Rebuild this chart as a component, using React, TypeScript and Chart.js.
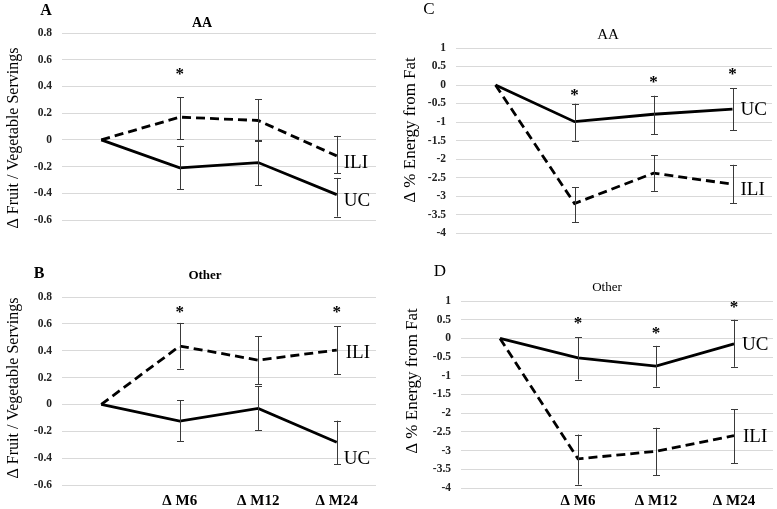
import React, { useEffect, useRef } from "react";
import { Chart, registerables } from "chart.js";

Chart.register(...registerables);

// ---------- data ----------
const categories = ["", "Δ M6", "Δ M12", "Δ M24"];

const fvTickValues = [-0.6, -0.4, -0.2, 0, 0.2, 0.4, 0.6, 0.8];
const fatTickValues = [-4, -3.5, -3, -2.5, -2, -1.5, -1, -0.5, 0, 0.5, 1];

// Panel A: AA, fruit / vegetable servings
const aILI = [0, 0.17, 0.145, -0.12];
const aILILow = [null, 0.005, -0.01, -0.25];
const aILIHigh = [null, 0.32, 0.305, 0.03];
const aUC = [0, -0.21, -0.17, -0.41];
const aUCLow = [null, -0.37, -0.34, -0.575];
const aUCHigh = [null, -0.045, 0.0, -0.285];
const aStars = [null, 0.505, null, null];

// Panel B: Other, fruit / vegetable servings
const bILI = [0, 0.435, 0.33, 0.405];
const bILILow = [null, 0.267, 0.15, 0.225];
const bILIHigh = [null, 0.607, 0.508, 0.582];
const bUC = [0, -0.124, -0.03, -0.282];
const bUCLow = [null, -0.272, -0.19, -0.446];
const bUCHigh = [null, 0.032, 0.136, -0.121];
const bStars = [null, 0.7, null, 0.7];

// Panel C: AA, % energy from fat
const cUC = [0, -0.99, -0.79, -0.65];
const cUCLow = [null, -1.5, -1.335, -1.22];
const cUCHigh = [null, -0.505, -0.29, -0.085];
const cILI = [0, -3.2, -2.38, -2.68];
const cILILow = [null, -3.71, -2.86, -3.2];
const cILIHigh = [null, -2.76, -1.89, -2.155];
const cStars = [null, -0.23, 0.11, 0.33];

// Panel D: Other, % energy from fat
const dUC = [0, -0.52, -0.74, -0.145];
const dUCLow = [null, -1.1, -1.29, -0.76];
const dUCHigh = [null, 0.03, -0.2, 0.5];
const dILI = [0, -3.22, -3.02, -2.6];
const dILILow = [null, -3.91, -3.66, -3.34];
const dILIHigh = [null, -2.57, -2.39, -1.89];
const dStars = [null, 0.46, 0.19, 0.89];

// ---------- layout ----------
const SERIF = "'Liberation Serif', 'Times New Roman', serif";

type Series = {
  name: string;
  values: (number | null)[];
  low: (number | null)[];
  high: (number | null)[];
  dashed: boolean;
  labelDx: number;
  labelDy: number;
};

type PanelCfg = {
  rect: { x: number; y: number; w: number; h: number };
  plot: { left: number; right: number; top: number; bottom: number };
  ticks: number[];
  min: number;
  max: number;
  showX: boolean;
  xPad: number;
  letter: { text: string; x: number; y: number; font: string };
  group: { text: string; x: number; y: number; font: string };
  yTitle: { text: string; x: number; y: number; font: string };
  series: Series[];
  stars: (number | null)[];
};

const panels: PanelCfg[] = [
  {
    rect: { x: 0, y: 0, w: 388, h: 250 },
    plot: { left: 62, right: 376, top: 33, bottom: 220 },
    ticks: fvTickValues,
    min: -0.6,
    max: 0.8,
    showX: false,
    xPad: 0,
    letter: { text: "A", x: 46, y: 11, font: `bold 16px ${SERIF}` },
    group: { text: "AA", x: 202, y: 23, font: `bold 14px ${SERIF}` },
    yTitle: { text: "Δ Fruit / Vegetable Servings", x: 14, y: 138, font: `16px ${SERIF}` },
    series: [
      { name: "ILI", values: aILI, low: aILILow, high: aILIHigh, dashed: true, labelDx: 7, labelDy: 7 },
      { name: "UC", values: aUC, low: aUCLow, high: aUCHigh, dashed: false, labelDx: 7, labelDy: 6 },
    ],
    stars: aStars,
  },
  {
    rect: { x: 0, y: 250, w: 388, h: 259 },
    plot: { left: 62, right: 376, top: 297, bottom: 485 },
    ticks: fvTickValues,
    min: -0.6,
    max: 0.8,
    showX: true,
    xPad: -1,
    letter: { text: "B", x: 39, y: 274, font: `bold 16px ${SERIF}` },
    group: { text: "Other", x: 205, y: 276, font: `bold 13px ${SERIF}` },
    yTitle: { text: "Δ Fruit / Vegetable Servings", x: 14, y: 388, font: `16px ${SERIF}` },
    series: [
      { name: "ILI", values: bILI, low: bILILow, high: bILIHigh, dashed: true, labelDx: 9, labelDy: 3 },
      { name: "UC", values: bUC, low: bUCLow, high: bUCHigh, dashed: false, labelDx: 7, labelDy: 17 },
    ],
    stars: bStars,
  },
  {
    rect: { x: 388, y: 0, w: 389, h: 250 },
    plot: { left: 456, right: 772, top: 48, bottom: 239 },
    ticks: fatTickValues,
    min: -4,
    max: 1,
    showX: false,
    xPad: 0,
    letter: { text: "C", x: 429, y: 10, font: `17px ${SERIF}` },
    group: { text: "AA", x: 608, y: 35, font: `15px ${SERIF}` },
    yTitle: { text: "Δ % Energy from Fat", x: 411, y: 130, font: `17px ${SERIF}` },
    series: [
      { name: "UC", values: cUC, low: cUCLow, high: cUCHigh, dashed: false, labelDx: 8, labelDy: 1 },
      { name: "ILI", values: cILI, low: cILILow, high: cILIHigh, dashed: true, labelDx: 8, labelDy: 6 },
    ],
    stars: cStars,
  },
  {
    rect: { x: 388, y: 250, w: 389, h: 259 },
    plot: { left: 461, right: 773, top: 301, bottom: 488 },
    ticks: fatTickValues,
    min: -4,
    max: 1,
    showX: true,
    xPad: -4,
    letter: { text: "D", x: 440, y: 272, font: `17px ${SERIF}` },
    group: { text: "Other", x: 607, y: 288, font: `13px ${SERIF}` },
    yTitle: { text: "Δ % Energy from Fat", x: 413, y: 381, font: `17px ${SERIF}` },
    series: [
      { name: "UC", values: dUC, low: dUCLow, high: dUCHigh, dashed: false, labelDx: 8, labelDy: 1 },
      { name: "ILI", values: dILI, low: dILILow, high: dILIHigh, dashed: true, labelDx: 9, labelDy: 1 },
    ],
    stars: dStars,
  },
];

function Panel({ cfg }: { cfg: PanelCfg }) {
  const ref = useRef<HTMLCanvasElement | null>(null);

  useEffect(() => {
    const canvas = ref.current;
    if (!canvas) return;
    const { rect, plot } = cfg;

    const overlay = {
      id: "overlay",
      afterDatasetsDraw(chart: any) {
        const ctx = chart.ctx as CanvasRenderingContext2D;
        const xs = chart.scales.x;
        const ys = chart.scales.y;
        ctx.save();
        // error bars
        ctx.strokeStyle = "#3a3a3a";
        ctx.lineWidth = 1;
        cfg.series.forEach((s) => {
          s.values.forEach((_, i) => {
            const lo = s.low[i];
            const hi = s.high[i];
            if (lo == null || hi == null) return;
            const x = Math.round(xs.getPixelForValue(i)) + 0.5;
            const y1 = ys.getPixelForValue(lo);
            const y2 = ys.getPixelForValue(hi);
            ctx.beginPath();
            ctx.moveTo(x, y1);
            ctx.lineTo(x, y2);
            ctx.moveTo(x - 3.5, Math.round(y1) + 0.5);
            ctx.lineTo(x + 3.5, Math.round(y1) + 0.5);
            ctx.moveTo(x - 3.5, Math.round(y2) + 0.5);
            ctx.lineTo(x + 3.5, Math.round(y2) + 0.5);
            ctx.stroke();
          });
        });
        // stars
        ctx.fillStyle = "#000";
        ctx.font = `bold 17px ${SERIF}`;
        ctx.textAlign = "center";
        ctx.textBaseline = "middle";
        cfg.stars.forEach((v, i) => {
          if (v == null) return;
          ctx.fillText("*", xs.getPixelForValue(i), ys.getPixelForValue(v) + 2);
        });
        // series labels
        ctx.font = `19px ${SERIF}`;
        ctx.textAlign = "left";
        cfg.series.forEach((s) => {
          const last = s.values.length - 1;
          const v = s.values[last] as number;
          ctx.fillText(s.name, xs.getPixelForValue(last) + s.labelDx, ys.getPixelForValue(v) + s.labelDy);
        });
        // static texts
        const txt = (t: { text: string; x: number; y: number; font: string }) => {
          ctx.font = t.font;
          ctx.textAlign = "center";
          ctx.textBaseline = "middle";
          ctx.fillText(t.text, t.x - rect.x, t.y - rect.y);
        };
        txt(cfg.letter);
        txt(cfg.group);
        ctx.save();
        ctx.translate(cfg.yTitle.x - rect.x, cfg.yTitle.y - rect.y);
        ctx.rotate(-Math.PI / 2);
        ctx.font = cfg.yTitle.font;
        ctx.textAlign = "center";
        ctx.textBaseline = "middle";
        ctx.fillText(cfg.yTitle.text, 0, 0);
        ctx.restore();
        ctx.restore();
      },
    };

    const chart = new Chart(canvas, {
      type: "line",
      data: {
        labels: categories,
        datasets: cfg.series.map((s) => ({
          label: s.name,
          data: s.values,
          borderColor: "#000",
          borderWidth: 2.8,
          borderDash: s.dashed ? [9, 5] : [],
          pointRadius: 0,
          tension: 0,
          fill: false,
        })),
      },
      options: {
        animation: false,
        responsive: false,
        maintainAspectRatio: false,
        layout: {
          padding: {
            left: 0,
            top: plot.top - rect.y,
            right: rect.x + rect.w - plot.right,
            bottom: 0,
          },
        },
        plugins: {
          legend: { display: false },
          tooltip: { enabled: false },
          title: { display: false },
        },
        scales: {
          x: {
            type: "category",
            offset: true,
            grid: { display: false },
            border: { display: false },
            ticks: {
              display: cfg.showX,
              autoSkip: false,
              maxRotation: 0,
              padding: cfg.xPad,
              color: "#000",
              font: { family: SERIF, size: 15, weight: "bold" },
            },
            afterFit(scale: any) {
              scale.height = rect.y + rect.h - plot.bottom;
            },
          },
          y: {
            min: cfg.min,
            max: cfg.max,
            grid: { color: "#d9d9d9", lineWidth: 1, drawTicks: false },
            border: { display: false },
            afterBuildTicks(scale: any) {
              scale.ticks = cfg.ticks.map((v) => ({ value: v }));
            },
            ticks: {
              padding: 10,
              color: "#222",
              font: { family: SERIF, size: 11.5, weight: "bold" },
              callback: (v: any) => String(Math.round(Number(v) * 10) / 10),
            },
            afterFit(scale: any) {
              scale.width = plot.left - rect.x;
            },
          },
        },
      },
      plugins: [overlay],
    } as any);

    return () => chart.destroy();
  }, [cfg]);

  return (
    <canvas
      ref={ref}
      width={cfg.rect.w}
      height={cfg.rect.h}
      style={{
        position: "absolute",
        left: cfg.rect.x,
        top: cfg.rect.y,
        width: cfg.rect.w,
        height: cfg.rect.h,
      }}
    />
  );
}

export default function App() {
  return (
    <div
      style={{
        position: "absolute",
        left: 0,
        top: 0,
        width: 777,
        height: 509,
        background: "#fff",
        overflow: "hidden",
      }}
    >
      {panels.map((p, i) => (
        <Panel key={i} cfg={p} />
      ))}
    </div>
  );
}
